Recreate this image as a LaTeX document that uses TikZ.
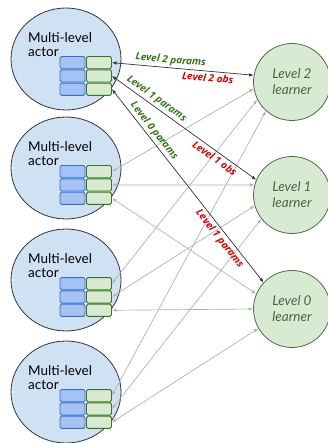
\documentclass[tikz,border=0pt]{standalone}
\usepackage{fontspec}
\setmainfont{Lato}
\newfontfamily\labelfont{Open Sans}
\usetikzlibrary{shapes.geometric,arrows.meta}
\definecolor{actorfill}{HTML}{CFE2F3}
\definecolor{bluefill}{HTML}{A4C2F4}
\definecolor{blueline}{HTML}{3C6FC8}
\definecolor{greenfill}{HTML}{D9EAD3}
\definecolor{greenline}{HTML}{38761D}
\definecolor{learnerline}{HTML}{4F6B45}
\definecolor{learnertext}{HTML}{46663A}
\definecolor{paramgreen}{HTML}{38761D}
\definecolor{obsred}{HTML}{DD0000}
\begin{document}
\begin{tikzpicture}[x=1pt,y=-1pt,
    actor_node/.style={ellipse,draw=black!80,fill=actorfill,line width=0.8pt,minimum width=110pt,minimum height=102pt,inner sep=0pt},
    actor_text/.style={anchor=north west,align=left,inner sep=0pt,font=\fontsize{13.5}{14.5}\selectfont},
    blue_cell/.style={draw=blueline,fill=bluefill,rounded corners=1.5pt,line width=0.9pt,minimum width=25pt,minimum height=12.2pt,inner sep=0pt},
    green_cell/.style={draw=greenline,fill=greenfill,rounded corners=1.5pt,line width=0.9pt,minimum width=25pt,minimum height=12.2pt,inner sep=0pt},
    learner_node/.style={circle,draw=learnerline,fill=greenfill,line width=0.8pt,minimum size=77pt,inner sep=0pt,align=center,text=learnertext,font=\itshape\fontsize{13.5}{16}\selectfont},
    main_link/.style={{Latex[length=4.5pt,width=3.5pt]}-{Latex[length=4.5pt,width=3.5pt]},draw=black!80,line width=0.7pt},
    side_link/.style={{Latex[length=4.5pt,width=3.5pt]}-{Latex[length=4.5pt,width=3.5pt]},draw=black!30,line width=0.7pt},
    param_label/.style={sloped,above,inner sep=2pt,text=paramgreen,font=\labelfont\bfseries\itshape\fontsize{10}{11}\selectfont},
    obs_label/.style={sloped,below,inner sep=2.5pt,text=obsred,font=\labelfont\bfseries\itshape\fontsize{10}{11}\selectfont}]
    \useasboundingbox (0,0) rectangle (327,443);
    % actors with their three levels
    \foreach \i/\y in {1/59,2/168,3/280,4/392}{
        \node[actor_node] (a\i) at (66,\y) {};
        \node[actor_text] (t\i) at (28,\y-27) {Multi-level\\actor};
        \foreach \r in {0,1,2}{
            \node[blue_cell] (b\i-\r) at (72.5,\y+3.65+13.3*\r) {};
            \node[green_cell] (g\i-\r) at (99,\y+3.65+13.3*\r) {};
        }
    }
    % learners
    \node[learner_node] (l2) at (292,82) {Level 2\\learner};
    \node[learner_node] (l1) at (292,195) {Level 1\\learner};
    \node[learner_node] (l0) at (292,309) {Level 0\\learner};
    % links
    \foreach \a/\r/\l/\ang in {2/0/l2/190,2/1/l1/165,2/2/l0/157,3/0/l2/207,3/1/l1/196,3/2/l0/180,4/0/l2/228,4/1/l1/218,4/2/l0/210}
        \draw[side_link] (g\a-\r.east) -- (\l.\ang);
    \draw[main_link] (g1-0.east) -- (l2.170) node[param_label,pos=0.41] {Level 2 params} node[obs_label,pos=0.68] {Level 2 obs};
    \draw[main_link] (g1-1.east) -- (l1.157) node[param_label,pos=0.28] {Level 1 params} node[obs_label,pos=0.74] {Level 1 obs};
    \draw[main_link] (g1-2.east) -- (l0.137) node[param_label,pos=0.24] {Level 0 params} node[obs_label,pos=0.75] {Level 1 params};
\end{tikzpicture}
\end{document}
